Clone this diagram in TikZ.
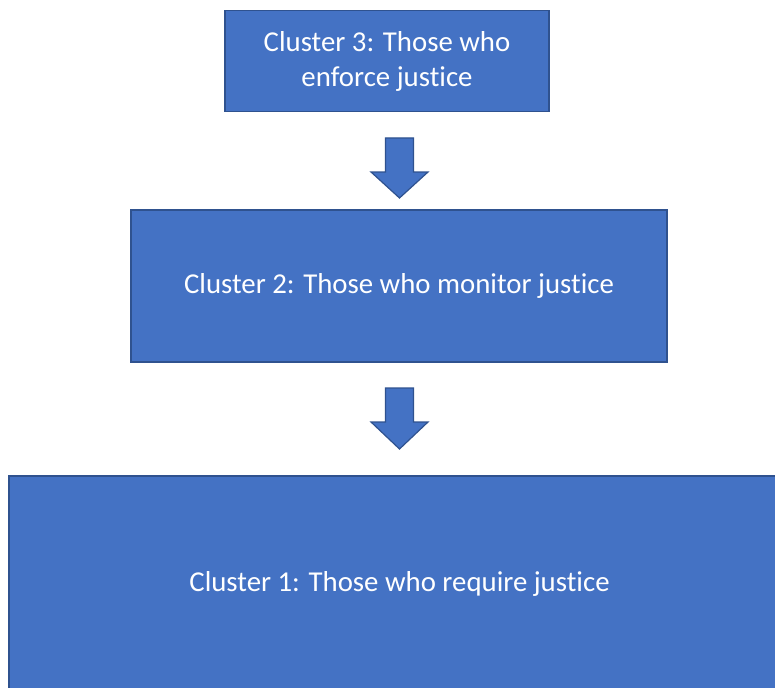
\documentclass[tikz,border=0pt]{standalone}
\usepackage{fontspec}
\setmainfont{Carlito}[Ligatures={NoCommon}]
\definecolor{boxfill}{HTML}{4472C4}
\definecolor{boxline}{HTML}{2F528F}
\begin{document}
\begin{tikzpicture}[x=1pt,y=-1pt,
  cluster/.style={draw=boxline,fill=boxfill,line width=1.5pt,text=white,
    font=\fontsize{28.8}{35}\selectfont,align=center,inner sep=0pt},
  blockarrow/.style={draw=boxline,fill=boxfill,line width=1.2pt,line join=miter}]
\useasboundingbox (0,0) rectangle (775,687);
\clip (0,0) rectangle (775,687);
\node[cluster,minimum width=324pt,minimum height=101pt] (c3) at (387,61) {Cluster 3: Those who\\enforce justice};
\node[cluster,minimum width=536pt,minimum height=152pt] (c2) at (399,286) {Cluster 2: Those who monitor justice};
\node[cluster,minimum width=781pt,minimum height=216pt] (c1) at (399.5,584) {Cluster 1: Those who require justice};
% arrow 3 -> 2
\coordinate (a1) at (399.5,138);
\draw[blockarrow] ([xshift=-14pt]a1) -- ([xshift=14pt]a1) -- ++(0,34) -- (428,172) -- (399.5,198) -- (371,172) -- (385.5,172) -- cycle;
% arrow 2 -> 1
\coordinate (a2) at (399.5,388);
\draw[blockarrow] ([xshift=-14pt]a2) -- ([xshift=14pt]a2) -- ++(0,34) -- (428,422) -- (399.5,449) -- (371,422) -- (385.5,422) -- cycle;
\end{tikzpicture}
\end{document}
